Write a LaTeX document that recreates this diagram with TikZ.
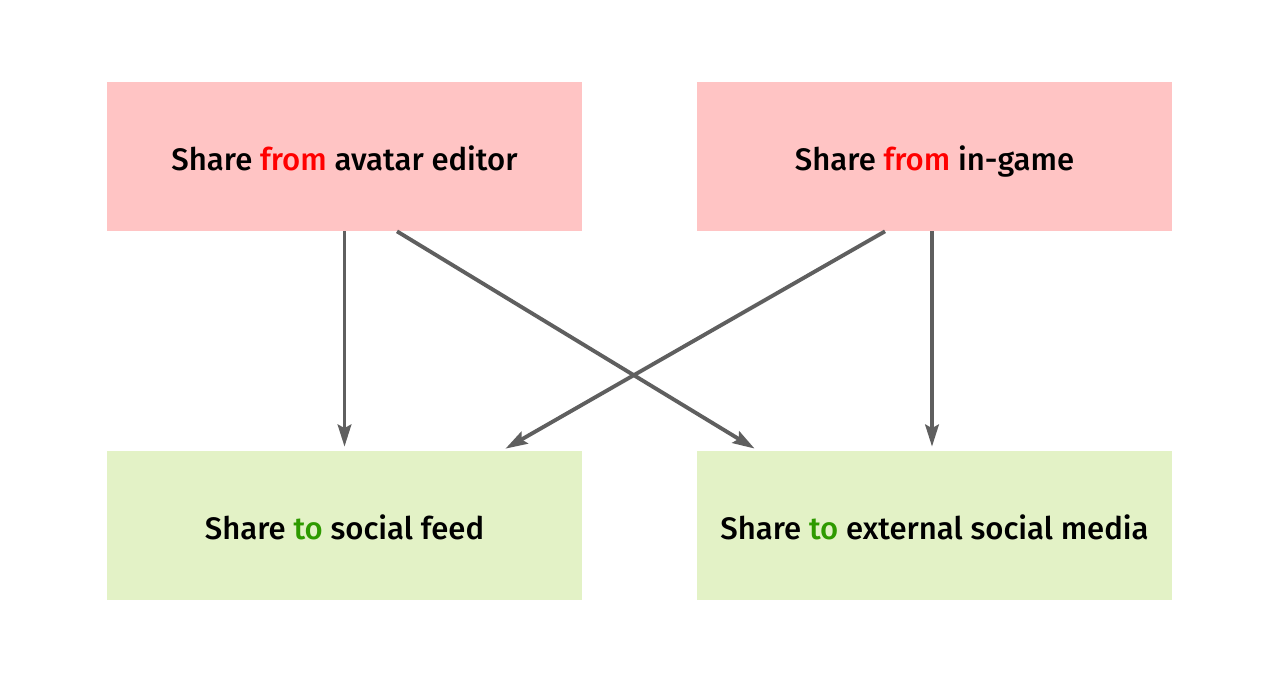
\documentclass[tikz,border=0pt]{standalone}
\usepackage{fontspec}
\setmainfont{Fira Sans}[UprightFont=* Medium]
\usepackage{tikz}
\usetikzlibrary{arrows.meta}
\definecolor{frompink}{HTML}{FFC4C4}
\definecolor{togreen}{HTML}{E3F2C6}
\definecolor{fromred}{HTML}{FF0000}
\definecolor{totext}{HTML}{2E9A00}
\definecolor{linkgray}{HTML}{5F5F5F}
\tikzset{
  sharebox/.style={rectangle, minimum width=9.5cm, minimum height=2.98cm, inner sep=0pt, text height=0.64cm, text depth=0.06cm, font=\fontsize{17.7}{20}\selectfont},
  link/.style={-{Stealth[length=4.4mm, width=2.7mm, inset=0.7mm]}, draw=linkgray, fill=linkgray, line width=2.2pt, shorten >=0.08cm}
}
\begin{document}
\begin{tikzpicture}
            \useasboundingbox (0,0) rectangle (25.58,13.54);
            \node[sharebox, fill=frompink] (avatar) at (6.89,10.41) {Share \textcolor{fromred}{from} avatar editor};
            \node[sharebox, fill=frompink] (ingame) at (18.69,10.41) {Share \textcolor{fromred}{from} in-game};
            \node[sharebox, fill=togreen] (feed) at (6.89,3.03) {Share \textcolor{totext}{to} social feed};
            \node[sharebox, fill=togreen] (external) at (18.69,3.03) {Share \textcolor{totext}{to} external social media};
            
            \draw[link] (avatar.south) -- (feed.north);
            \draw[link] ([xshift=1.05cm]avatar.south) -- ([xshift=-3.53cm]external.north);
            \draw[link] ([xshift=-0.99cm]ingame.south) -- ([xshift=3.15cm]feed.north);
            \draw[link] ([xshift=-0.05cm]ingame.south) -- ([xshift=-0.05cm]external.north);
        \end{tikzpicture}
\end{document}
